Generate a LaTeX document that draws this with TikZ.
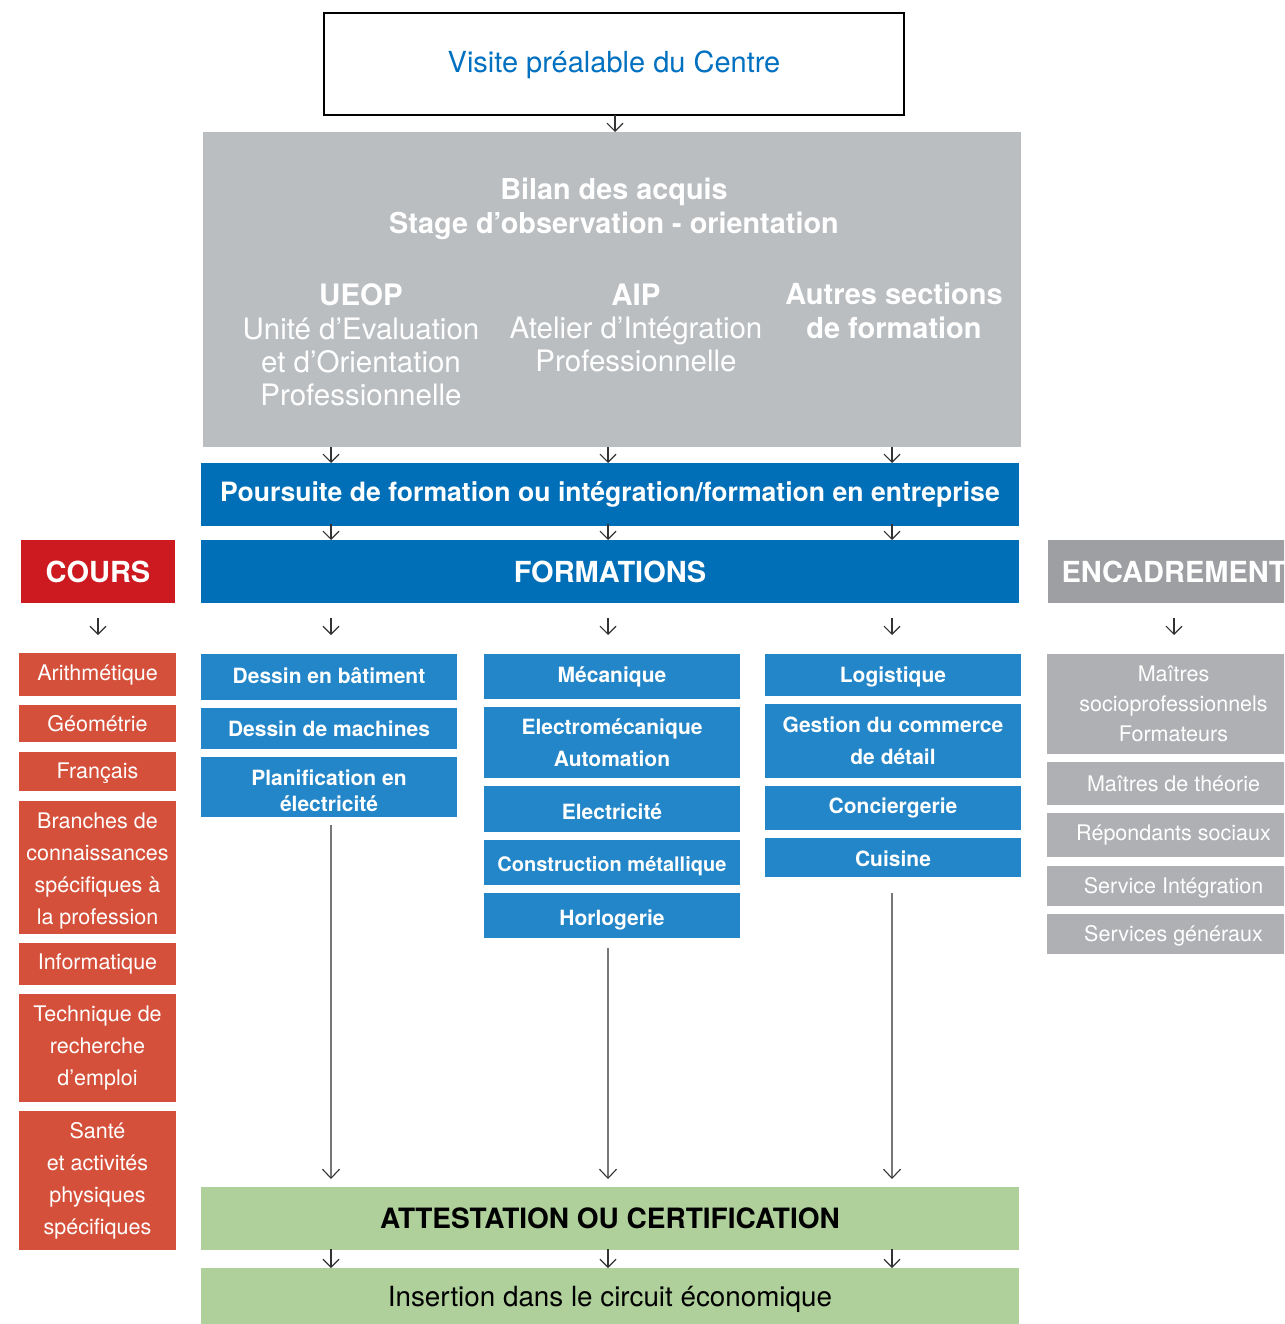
\documentclass[tikz,border=0pt]{standalone}
\usepackage{fontspec}
\setmainfont{TeX Gyre Heros}
\usetikzlibrary{arrows.meta,calc}
\definecolor{cBlueTxt}{HTML}{0070C0}
\definecolor{cBig}{HTML}{BBBEC1}
\definecolor{cBand}{HTML}{006FB8}
\definecolor{cItem}{HTML}{2286C8}
\definecolor{cRed}{HTML}{CC1A20}
\definecolor{cRedI}{HTML}{D5503A}
\definecolor{cEncH}{HTML}{9D9FA2}
\definecolor{cEncI}{HTML}{AEB0B3}
\definecolor{cGreen}{HTML}{AFD09B}
\definecolor{cArr}{HTML}{333333}
\definecolor{cLong}{HTML}{777777}
\newcommand\fs[2]{\fontsize{#1}{#2}\selectfont}
\newcommand\dn[2]{\raisebox{-#1}[\height][\depth]{#2}}
\newcommand\bx[7]{\node[#6, minimum width={#4-#2}, minimum height={#5-#3}] (#1) at ({(#2+#4)/2},{(#3+#5)/2}) {#7};}
\begin{document}
\begin{tikzpicture}[x=1pt,y=-1pt,
  base/.style={inner sep=0pt, outer sep=0pt, align=center},
  visitebox/.style={base, draw=black, line width=2.5pt, fill=white, text=cBlueTxt, font=\fs{29}{34}},
  bigbox/.style={base, fill=cBig},
  bigtitle/.style={base, text=white, font=\fs{28.8}{34}\bfseries},
  bigcol/.style={base, text=white, font=\fs{29.5}{33.4}},
  band/.style={base, fill=cBand, text=white, font=\fs{26.6}{30}\bfseries},
  head/.style={base, text=white, font=\fs{29}{32}\bfseries},
  formitem/.style={base, fill=cItem, text=white, font=\fs{21}{32}\bfseries},
  coursitem/.style={base, fill=cRedI, text=white, font=\fs{21.5}{32}},
  encitem/.style={base, fill=cEncI, text=white, font=\fs{21.5}{30}},
  greenbox/.style={base, fill=cGreen, text=black},
  arr/.style={draw=cArr, line width=1.1pt, -{Straight Barb[length=8pt,width=16pt]}},
  longarr/.style={draw=cLong, line width=1.6pt, -{Straight Barb[length=9pt,width=17pt,color=cArr,line width=1.1pt]}}
]
\useasboundingbox (0,0) rectangle (1284,1324);
\clip (0,0) rectangle (1284,1324);

% top
\bx{visite}{324}{13}{904}{115}{visitebox}{\dn{1pt}{Visite préalable du Centre}}
\bx{bilan}{203}{132}{1021}{447}{bigbox}{}
\node[bigtitle] (bt) at (614,209) {Bilan des acquis\\Stage d’observation - orientation};
\node[bigcol] (ueop) at (361,345) {\textbf{UEOP}\\Unité d’Evaluation\\et d’Orientation\\Professionnelle};
\node[bigcol] (aip) at (636,328) {\textbf{AIP}\\Atelier d’Intégration\\Professionnelle};
\node[bigcol, font=\fs{29}{33.4}\bfseries] (autres) at (894,311) {Autres sections\\de formation};

\bx{pours}{201}{463}{1019}{526}{band}{Poursuite de formation ou intégration/formation en entreprise}
\bx{form}{201}{540}{1019}{603}{head, fill=cBand}{FORMATIONS}
\bx{cours}{21}{540}{175}{603}{head, fill=cRed}{COURS}
\bx{enc}{1048}{540}{1300}{603}{head, fill=cEncH}{ENCADREMENT}

% cours
\bx{c1}{19}{653}{176}{696}{coursitem}{Arithmétique}
\bx{c2}{19}{705}{176}{742}{coursitem}{Géométrie}
\bx{c3}{19}{752}{176}{791}{coursitem}{\dn{2pt}{Français}}
\bx{c4}{19}{801}{176}{934}{coursitem}{\dn{3pt}{\parbox{150pt}{\centering Branches de\\connaissances\\spécifiques à\\la profession}}}
\bx{c5}{19}{943}{176}{985}{coursitem}{Informatique}
\bx{c6}{19}{994}{176}{1102}{coursitem}{Technique de\\recherche\\d’emploi}
\bx{c7}{19}{1111}{176}{1250}{coursitem}{Santé\\et activités\\physiques\\spécifiques}

% formations col 1
\bx{f11}{201}{654}{457}{700}{formitem}{\dn{-1.5pt}{Dessin en bâtiment}}
\bx{f12}{201}{708}{457}{749}{formitem}{Dessin de machines}
\bx{f13}{201}{757}{457}{817}{formitem}{\dn{4pt}{\parbox{250pt}{\centering Planification en\\[-6pt]électricité}}}
% col 2
\bx{f21}{484}{654}{740}{699}{formitem}{Mécanique}
\bx{f22}{484}{707}{740}{778}{formitem}{Electromécanique\\Automation}
\bx{f23}{484}{786}{740}{832}{formitem}{\dn{3pt}{Electricité}}
\bx{f24}{484}{840}{740}{885}{formitem, font=\fs{20}{32}\bfseries}{\dn{4pt}{Construction métallique}}
\bx{f25}{484}{893}{740}{938}{formitem}{\dn{4pt}{Horlogerie}}
% col 3
\bx{f31}{765}{654}{1021}{696}{formitem}{\dn{2pt}{Logistique}}
\bx{f32}{765}{704}{1021}{778}{formitem}{Gestion du commerce\\de détail}
\bx{f33}{765}{786}{1021}{830}{formitem}{Conciergerie}
\bx{f34}{765}{838}{1021}{877}{formitem}{\dn{1pt}{Cuisine}}

% encadrement
\bx{e1}{1047}{654}{1300}{754}{encitem}{Maîtres\\socioprofessionnels\\Formateurs}
\bx{e2}{1047}{762}{1300}{805}{encitem}{Maîtres de théorie}
\bx{e3}{1047}{813}{1300}{857}{encitem}{Répondants sociaux}
\bx{e4}{1047}{866}{1300}{906}{encitem}{\dn{2pt}{Service Intégration}}
\bx{e5}{1047}{914}{1300}{954}{encitem}{\dn{2pt}{Services généraux}}

% bottom
\bx{att}{201}{1187}{1019}{1250}{greenbox, font=\fs{28}{32}\bfseries}{ATTESTATION OU CERTIFICATION}
\bx{ins}{201}{1268}{1019}{1330}{greenbox, font=\fs{27.8}{32}}{Insertion dans le circuit économique}

% arrow columns
\coordinate (k1) at (331,0);
\coordinate (k2) at (608,0);
\coordinate (k3) at (892,0);

\draw[arr] (visite.south -| 615,0) -- (bilan.north -| 615,0);
\foreach \k in {k1,k2,k3} {
  \draw[arr] (bilan.south -| \k) -- (pours.north -| \k);
  \draw[arr] ($(pours.south -| \k)+(0,-2)$) -- (form.north -| \k);
  \draw[arr] ($(form.south -| \k)+(0,15)$) -- ($(form.south -| \k)+(0,32)$);
  \draw[arr] ($(att.south -| \k)+(0,-1)$) -- (ins.north -| \k);
}
\draw[arr] ($(cours.south -| 98,0)+(0,15)$) -- ($(cours.south -| 98,0)+(0,32)$);
\draw[arr] ($(enc.south -| 1174,0)+(0,15)$) -- ($(enc.south -| 1174,0)+(0,32)$);

\draw[longarr] ($(f13.south -| k1)+(0,8)$) -- ($(att.north -| k1)+(0,-8)$);
\draw[longarr] ($(f25.south -| k2)+(0,10)$) -- ($(att.north -| k2)+(0,-8)$);
\draw[longarr] ($(f34.south -| k3)+(0,16)$) -- ($(att.north -| k3)+(0,-8)$);
\end{tikzpicture}
\end{document}
